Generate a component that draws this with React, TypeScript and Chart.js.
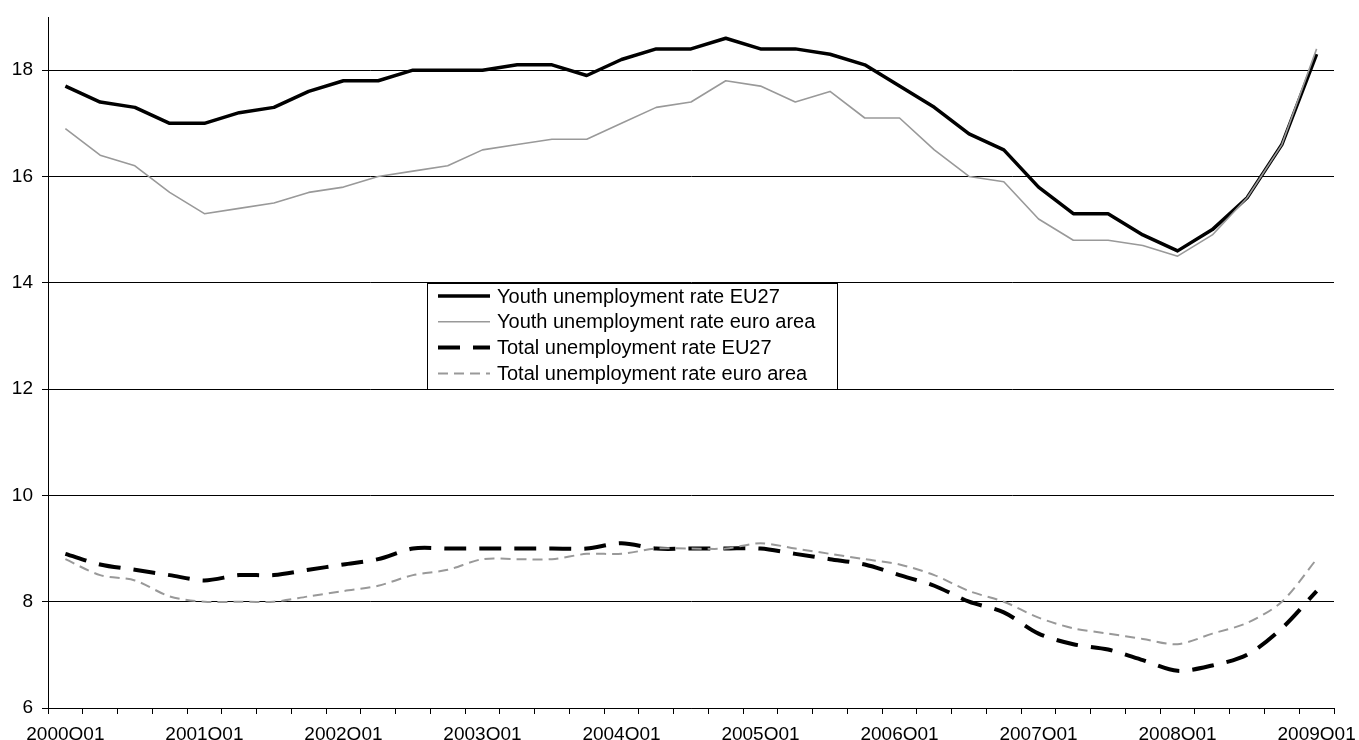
import React, { useEffect, useRef } from 'react';
import { Chart, registerables } from 'chart.js';

Chart.register(...registerables);

const categories = [
  '2000Q01', '2000Q02', '2000Q03', '2000Q04',
  '2001Q01', '2001Q02', '2001Q03', '2001Q04',
  '2002Q01', '2002Q02', '2002Q03', '2002Q04',
  '2003Q01', '2003Q02', '2003Q03', '2003Q04',
  '2004Q01', '2004Q02', '2004Q03', '2004Q04',
  '2005Q01', '2005Q02', '2005Q03', '2005Q04',
  '2006Q01', '2006Q02', '2006Q03', '2006Q04',
  '2007Q01', '2007Q02', '2007Q03', '2007Q04',
  '2008Q01', '2008Q02', '2008Q03', '2008Q04',
  '2009Q01',
];

const xTickLabels = [
  '2000Q01', '2001Q01', '2002Q01', '2003Q01', '2004Q01',
  '2005Q01', '2006Q01', '2007Q01', '2008Q01', '2009Q01',
];

const yTicks = [6, 8, 10, 12, 14, 16, 18];

const youthEU27 = [
  17.7, 17.4, 17.3, 17.0, 17.0, 17.2, 17.3, 17.6, 17.8, 17.8,
  18.0, 18.0, 18.0, 18.1, 18.1, 17.9, 18.2, 18.4, 18.4, 18.6,
  18.4, 18.4, 18.3, 18.1, 17.7, 17.3, 16.8, 16.5, 15.8, 15.3,
  15.3, 14.9, 14.6, 15.0, 15.6, 16.6, 18.3,
];

const youthEuroArea = [
  16.9, 16.4, 16.2, 15.7, 15.3, 15.4, 15.5, 15.7, 15.8, 16.0,
  16.1, 16.2, 16.5, 16.6, 16.7, 16.7, 17.0, 17.3, 17.4, 17.8,
  17.7, 17.4, 17.6, 17.1, 17.1, 16.5, 16.0, 15.9, 15.2, 14.8,
  14.8, 14.7, 14.5, 14.9, 15.6, 16.6, 18.4,
];

const totalEU27 = [
  8.9, 8.7, 8.6, 8.5, 8.4, 8.5, 8.5, 8.6, 8.7, 8.8,
  9.0, 9.0, 9.0, 9.0, 9.0, 9.0, 9.1, 9.0, 9.0, 9.0,
  9.0, 8.9, 8.8, 8.7, 8.5, 8.3, 8.0, 7.8, 7.4, 7.2,
  7.1, 6.9, 6.7, 6.8, 7.0, 7.5, 8.2,
];

const totalEuroArea = [
  8.8, 8.5, 8.4, 8.1, 8.0, 8.0, 8.0, 8.1, 8.2, 8.3,
  8.5, 8.6, 8.8, 8.8, 8.8, 8.9, 8.9, 9.0, 9.0, 9.0,
  9.1, 9.0, 8.9, 8.8, 8.7, 8.5, 8.2, 8.0, 7.7, 7.5,
  7.4, 7.3, 7.2, 7.4, 7.6, 8.0, 8.8,
];

const seriesLabels = [
  'Youth unemployment rate EU27',
  'Youth unemployment rate euro area',
  'Total unemployment rate EU27',
  'Total unemployment rate euro area',
];

const FONT = '"Liberation Sans", Arial, Helvetica, sans-serif';

const boxLegendPlugin = {
  id: 'boxLegend',
  afterDraw(chart: any, _args: any, opts: any) {
    const ctx = chart.ctx as CanvasRenderingContext2D;
    const { x, y, w, h, firstRow, rowGap, lineStart, lineEnd, textX, fontSize } = opts;
    ctx.save();
    ctx.fillStyle = '#ffffff';
    ctx.fillRect(x, y, w, h);
    ctx.strokeStyle = '#000000';
    ctx.lineWidth = 1;
    ctx.setLineDash([]);
    ctx.strokeRect(x + 0.5, y + 0.5, w, h);
    chart.data.datasets.forEach((ds: any, i: number) => {
      const cy = firstRow + i * rowGap;
      ctx.beginPath();
      ctx.setLineDash(ds.borderDash || []);
      ctx.lineWidth = ds.borderWidth;
      ctx.strokeStyle = ds.borderColor;
      ctx.lineCap = 'butt';
      ctx.moveTo(lineStart, cy);
      ctx.lineTo(lineEnd, cy);
      ctx.stroke();
      ctx.setLineDash([]);
      ctx.fillStyle = '#000000';
      ctx.font = `${fontSize}px ${FONT}`;
      ctx.textBaseline = 'middle';
      ctx.textAlign = 'left';
      ctx.fillText(ds.label, textX, cy + 1);
    });
    ctx.restore();
  },
};

export default function App() {
  const canvasRef = useRef<HTMLCanvasElement | null>(null);

  useEffect(() => {
    if (!canvasRef.current) return;
    const chart = new Chart(canvasRef.current, {
      type: 'line',
      data: {
        labels: categories,
        datasets: [
          {
            label: seriesLabels[0],
            data: youthEU27,
            borderColor: '#000000',
            borderWidth: 3.5,
            pointRadius: 0,
            tension: 0,
            fill: false,
            borderJoinStyle: 'round',
            order: 4,
          },
          {
            label: seriesLabels[1],
            data: youthEuroArea,
            borderColor: '#999999',
            borderWidth: 1.6,
            pointRadius: 0,
            tension: 0,
            fill: false,
            borderJoinStyle: 'round',
            order: 3,
          },
          {
            label: seriesLabels[2],
            data: totalEU27,
            borderColor: '#000000',
            borderWidth: 4,
            borderDash: [22, 13],
            pointRadius: 0,
            tension: 0.3,
            fill: false,
            order: 2,
          },
          {
            label: seriesLabels[3],
            data: totalEuroArea,
            borderColor: '#999999',
            borderWidth: 2,
            borderDash: [10, 6],
            pointRadius: 0,
            tension: 0.3,
            fill: false,
            order: 1,
          },
        ],
      },
      options: {
        animation: false,
        responsive: true,
        maintainAspectRatio: false,
        layout: { padding: { top: 17, right: 25, left: 0, bottom: 0 } },
        plugins: {
          legend: { display: false },
          tooltip: { enabled: false },
          boxLegend: {
            x: 427,
            y: 283,
            w: 410,
            h: 106,
            firstRow: 296,
            rowGap: 25.8,
            lineStart: 438,
            lineEnd: 490,
            textX: 497,
            fontSize: 20,
          },
        } as any,
        scales: {
          x: {
            type: 'category',
            offset: true,
            grid: {
              offset: true,
              drawOnChartArea: false,
              drawTicks: true,
              tickLength: 6,
              color: '#000000',
              lineWidth: 1,
            },
            border: { display: true, color: '#000000', width: 1 },
            ticks: {
              autoSkip: false,
              maxRotation: 0,
              minRotation: 0,
              padding: 9,
              color: '#000000',
              font: { size: 19, family: FONT },
              callback: (_v: any, i: number) =>
                xTickLabels.includes(categories[i]) ? categories[i] : '',
            },
            afterFit: (scale: any) => {
              scale.height = 32;
              scale.paddingLeft = 0;
              scale.paddingRight = 0;
            },
          },
          y: {
            type: 'linear',
            min: 6,
            max: 19,
            afterBuildTicks: (scale: any) => {
              scale.ticks = yTicks.map((v) => ({ value: v }));
            },
            grid: {
              drawOnChartArea: true,
              drawTicks: true,
              tickLength: 6,
              color: '#000000',
              lineWidth: 1,
            },
            border: { display: true, color: '#000000', width: 1 },
            ticks: {
              padding: 9,
              color: '#000000',
              font: { size: 19, family: FONT },
            },
            afterFit: (scale: any) => {
              scale.width = 48;
              scale.paddingTop = 0;
              scale.paddingBottom = 0;
            },
          },
        },
      },
      plugins: [boxLegendPlugin],
    } as any);
    return () => chart.destroy();
  }, []);

  return (
    <div
      style={{
        position: 'fixed',
        left: 0,
        top: 0,
        width: 1359,
        height: 740,
        background: '#ffffff',
      }}
    >
      <canvas ref={canvasRef} />
    </div>
  );
}
